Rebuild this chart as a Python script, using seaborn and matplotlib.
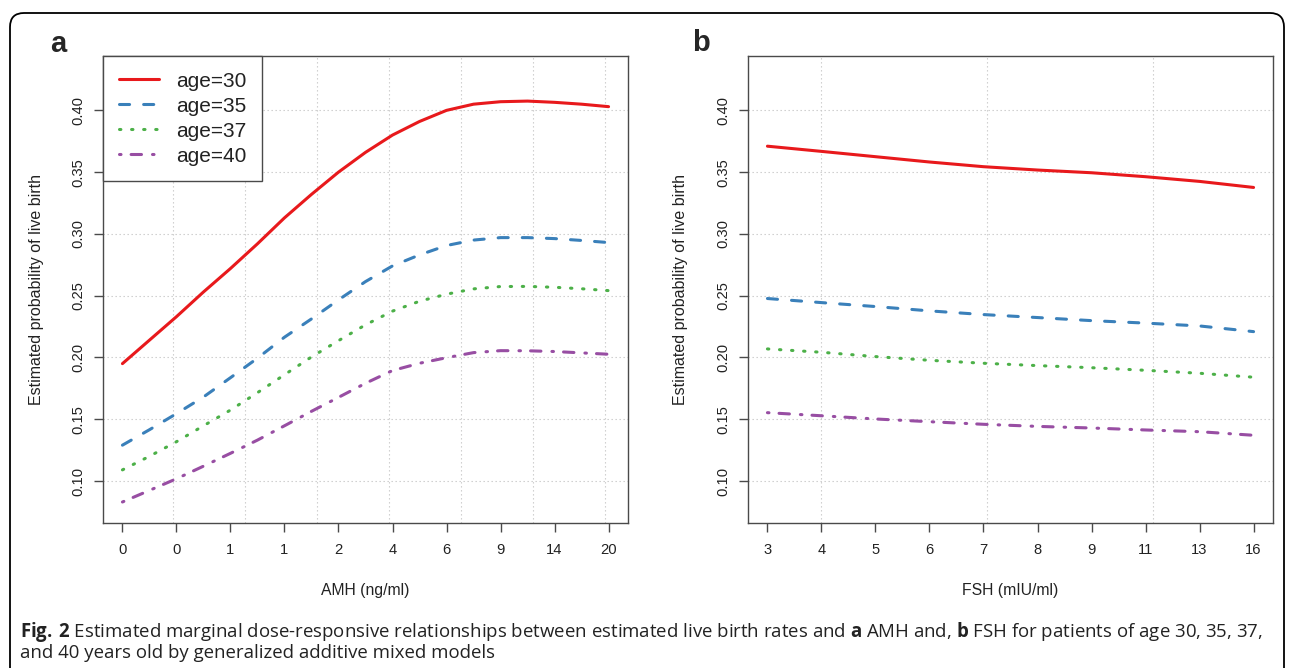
import matplotlib
matplotlib.use('Agg')
import numpy as np
import pandas as pd
import matplotlib.pyplot as plt
from matplotlib.patches import FancyBboxPatch
import seaborn as sns

# ---- data ----
ages = ['age=30', 'age=35', 'age=37', 'age=40']

# panel a: AMH, positions on the (quantile) axis
amh_labels = ['0', '0', '1', '1', '2', '4', '6', '9', '14', '20']
amh_pos = [0, 0.5, 1, 1.5, 2, 2.5, 3, 3.5, 4, 4.5, 5, 5.5, 6, 6.5, 7, 7.5, 8, 8.5, 9]
amh_age30 = [0.195, 0.214, 0.233, 0.253, 0.272, 0.292, 0.313, 0.332, 0.350, 0.366,
             0.380, 0.391, 0.400, 0.405, 0.407, 0.4075, 0.4065, 0.405, 0.403]
amh_age35 = [0.129, 0.1415, 0.1545, 0.168, 0.1836, 0.1994, 0.2164, 0.2312, 0.2466, 0.2614,
             0.2741, 0.283, 0.2906, 0.295, 0.297, 0.297, 0.2962, 0.2947, 0.293]
amh_age37 = [0.109, 0.120, 0.1318, 0.1447, 0.1574, 0.1715, 0.186, 0.2004, 0.2136, 0.2264,
             0.2375, 0.2455, 0.2512, 0.2555, 0.2574, 0.2575, 0.2568, 0.2556, 0.2541]
amh_age40 = [0.083, 0.0924, 0.1018, 0.112, 0.1224, 0.1331, 0.1447, 0.1564, 0.1677, 0.1791,
             0.1894, 0.1953, 0.1998, 0.2039, 0.2055, 0.2054, 0.2048, 0.2037, 0.2026]

# panel b: FSH
fsh_labels = ['3', '4', '5', '6', '7', '8', '9', '11', '13', '16']
fsh_pos = [0, 1, 2, 3, 4, 5, 6, 7, 8, 9]
fsh_age30 = [0.371, 0.3668, 0.3625, 0.3582, 0.3544, 0.3517, 0.3495, 0.3463, 0.3425, 0.3376]
fsh_age35 = [0.2477, 0.2444, 0.2412, 0.2377, 0.2347, 0.2323, 0.2298, 0.2278, 0.2255, 0.2209]
fsh_age37 = [0.2069, 0.2042, 0.2007, 0.1977, 0.1953, 0.1934, 0.1917, 0.1896, 0.1872, 0.1840]
fsh_age40 = [0.1553, 0.1528, 0.1502, 0.1480, 0.1459, 0.1442, 0.1429, 0.1413, 0.1399, 0.1370]

y_ticks = [0.10, 0.15, 0.20, 0.25, 0.30, 0.35, 0.40]
y_ticklabels = ['0.10', '0.15', '0.20', '0.25', '0.30', '0.35', '0.40']
amh_grid = [0.933, 2.267, 3.6, 4.933, 6.267, 7.6, 8.933]
fsh_grid = [1.0, 4.07, 7.14]

# ---- styling ----
sns.set_theme(style='white')
plt.rcParams['font.family'] = ['Liberation Sans', 'DejaVu Sans']
plt.rcParams['mathtext.fontset'] = 'custom'
plt.rcParams['mathtext.rm'] = 'Open Sans'
plt.rcParams['mathtext.bf'] = 'Open Sans:bold'

palette = dict(zip(ages, ['#E8191C', '#3A80BA', '#4CB048', '#984EA3']))
dashes = {'age=30': '', 'age=35': (3.3, 4.6), 'age=37': (0.45, 3.5),
          'age=40': (0.5, 3.3, 3.4, 3.6)}
dark = '#4A4A4A'
txt = '#222222'


def make_frame(pos, series):
    rows = []
    for age, vals in zip(ages, series):
        for p, v in zip(pos, vals):
            rows.append({'pos': p, 'prob': v, 'age': age})
    return pd.DataFrame(rows)


def draw_panel(ax, pos, series, labels, grid_x, xlabel):
    df = make_frame(pos, series)
    sns.lineplot(data=df, x='pos', y='prob', hue='age', style='age',
                 palette=palette, dashes=dashes, linewidth=2.2, legend=False,
                 dash_capstyle='round', solid_capstyle='round', ax=ax, zorder=3)
    handles = list(ax.lines)
    for gx in grid_x:
        ax.axvline(gx, color='#C8C8C8', lw=0.8, ls=(0, (1.2, 2.4)), zorder=0.5)
    for gy in y_ticks:
        ax.axhline(gy, color='#C8C8C8', lw=0.8, ls=(0, (1.2, 2.4)), zorder=0.5)
    ax.set_xlim(-0.36, 9.36)
    ax.set_ylim(0.066, 0.444)
    ax.set_xticks(range(10))
    ax.set_xticklabels(labels)
    ax.set_yticks(y_ticks)
    ax.set_yticklabels(y_ticklabels, rotation=90, va='center')
    ax.tick_params(axis='both', direction='out', length=6.5, width=1.0, color=dark,
                   labelsize=10.6, labelcolor=txt, left=True, bottom=True)
    ax.tick_params(axis='x', pad=8)
    ax.tick_params(axis='y', pad=6)
    for s in ax.spines.values():
        s.set_color(dark)
        s.set_linewidth(1.0)
    ax.set_xlabel(xlabel, fontsize=11.3, color=txt)
    ax.set_ylabel('Estimated probability of live birth', fontsize=11.5, color=txt)
    ax.xaxis.set_label_coords(0.5, (523 - 590) / 467)
    ax.xaxis.label.set_va('center')
    ax.yaxis.set_label_coords((36 - 103) / 525, 0.5)
    ax.yaxis.label.set_va('center')
    return handles


fig = plt.figure(figsize=(12.9, 6.68), dpi=100)
ax_a = fig.add_axes([103 / 1290, 1 - 523 / 668, 525 / 1290, 467 / 668])
ax_b = fig.add_axes([748 / 1290, 1 - 523 / 668, 525 / 1290, 467 / 668])

h = draw_panel(ax_a, amh_pos, [amh_age30, amh_age35, amh_age37, amh_age40],
               amh_labels, amh_grid, 'AMH (ng/ml)')
draw_panel(ax_b, fsh_pos, [fsh_age30, fsh_age35, fsh_age37, fsh_age40],
           fsh_labels, fsh_grid, 'FSH (mIU/ml)')

leg = ax_a.legend(h, ages, loc='upper left', bbox_to_anchor=(0, 1), borderaxespad=0,
                  frameon=True, fancybox=False, edgecolor=dark, framealpha=1,
                  fontsize=15, handlelength=1.92, handletextpad=0.82,
                  labelspacing=0.29, borderpad=0.75)
leg.get_frame().set_linewidth(1.0)
for t in leg.get_texts():
    t.set_color(txt)

fig.text(58 / 1290, 1 - 44 / 668, 'a', fontsize=21, fontweight='bold', ha='center', va='center')
fig.text(701 / 1290, 1 - 43 / 668, 'b', fontsize=21, fontweight='bold', ha='center', va='center')

# outer frame, open at the bottom
frame = FancyBboxPatch((10 / 100, -0.5), (1284 - 10) / 100, (668 - 13) / 100 + 0.5,
                       boxstyle='round,pad=0,rounding_size=0.14',
                       transform=fig.dpi_scale_trans, fill=False, ec='black', lw=1.3)
fig.add_artist(frame)

line1 = (r'$\mathbf{Fig.}\,\mathbf{2}$ Estimated marginal dose-responsive relationships between '
         r'estimated live birth rates and $\mathbf{a}$ AMH and, $\mathbf{b}$ FSH for '
         r'patients of age 30, 35, 37,')
line2 = 'and 40 years old by generalized additive mixed models'
cap_size = 11.5
c1 = fig.text(20 / 1290, 1 - 632 / 668, line1, fontsize=cap_size, family='Open Sans',
              va='center', color='#222222')
c2 = fig.text(20 / 1290, 1 - 653 / 668, line2, fontsize=cap_size, family='Open Sans',
              va='center', color='#222222')
fig.canvas.draw()
w = c1.get_window_extent(fig.canvas.get_renderer()).width
cap_size = cap_size * 1245 / w
c1.set_fontsize(cap_size)
c2.set_fontsize(cap_size)

fig.savefig('out.png', dpi=100)
